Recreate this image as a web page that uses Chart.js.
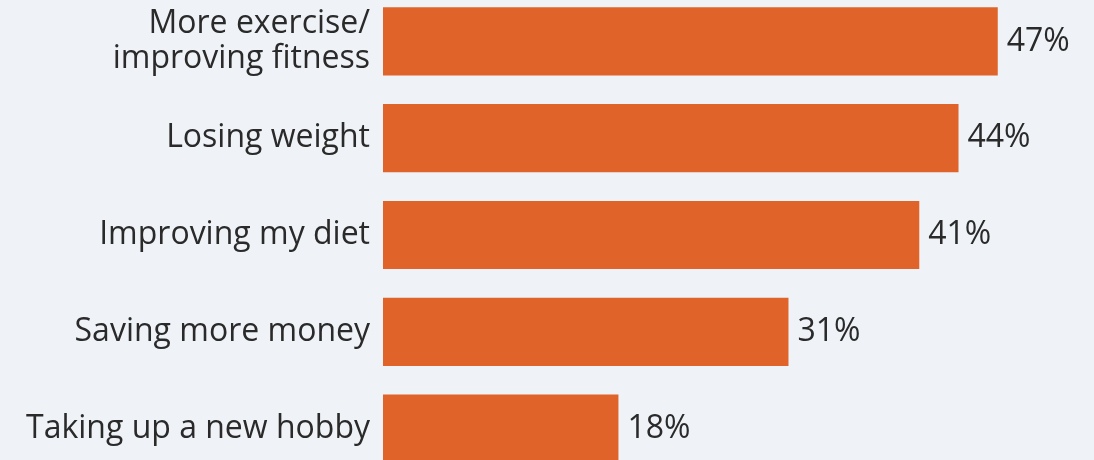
<!DOCTYPE html>
<html>
<head>
<meta charset="utf-8">
<script src="https://cdn.jsdelivr.net/npm/chart.js@4/dist/chart.umd.min.js"></script>
<style>
    html, body { margin: 0; padding: 0; background: #eff3f7; overflow: hidden; }
    #wrap { position: absolute; left: 0; top: -7px; width: 1094px; height: 484px; }
</style>
</head>
<body>
<div id="wrap"><canvas id="goals-chart"></canvas></div>
<script>
const categories = [
    ['More exercise/', 'improving fitness'],
    'Losing weight',
    'Improving my diet',
    'Saving more money',
    'Taking up a new hobby'
]
const shares = [47, 44, 41, 31, 18]

const barColor = '#e0632a'
const textColor = '#2a2a2a'
const font = "'Open Sans', sans-serif"

// percent labels at the end of each bar
const valueLabels = {
    id: 'valueLabels',
    afterDatasetsDraw(chart) {
        const ctx = chart.ctx
        const meta = chart.getDatasetMeta(0)
        ctx.save()
        ctx.font = '32px ' + font
        ctx.fillStyle = textColor
        ctx.textAlign = 'left'
        ctx.textBaseline = 'middle'
        meta.data.forEach((bar, i) => {
            ctx.fillText(shares[i] + '%', bar.x + 9, bar.y)
        })
        ctx.restore()
    }
}

const canvas = document.querySelector('#goals-chart').getContext('2d')

new Chart(canvas, {
    type: 'bar',
    data: {
        labels: categories,
        datasets: [{
            data: shares,
            backgroundColor: barColor,
            borderWidth: 0,
            categoryPercentage: 1,
            barPercentage: 0.705
        }]
    },
    options: {
        indexAxis: 'y',
        responsive: true,
        maintainAspectRatio: false,
        animation: false,
        layout: { padding: { left: 0, right: 57, top: 0, bottom: 0 } },
        plugins: {
            legend: { display: false },
            tooltip: { enabled: false }
        },
        scales: {
            x: {
                display: false,
                min: 0,
                max: 50
            },
            y: {
                afterFit(scale) {
                    scale.width = 383
                    // keep the tall first label from shrinking the plot
                    scale.paddingTop = 0
                    scale.paddingBottom = 0
                },
                grid: { display: false, drawTicks: false },
                border: { display: false },
                ticks: {
                    padding: 13,
                    color: textColor,
                    font: { family: font, size: 32, lineHeight: 1.1 }
                }
            }
        }
    },
    plugins: [valueLabels]
})
</script>
</body>
</html>
